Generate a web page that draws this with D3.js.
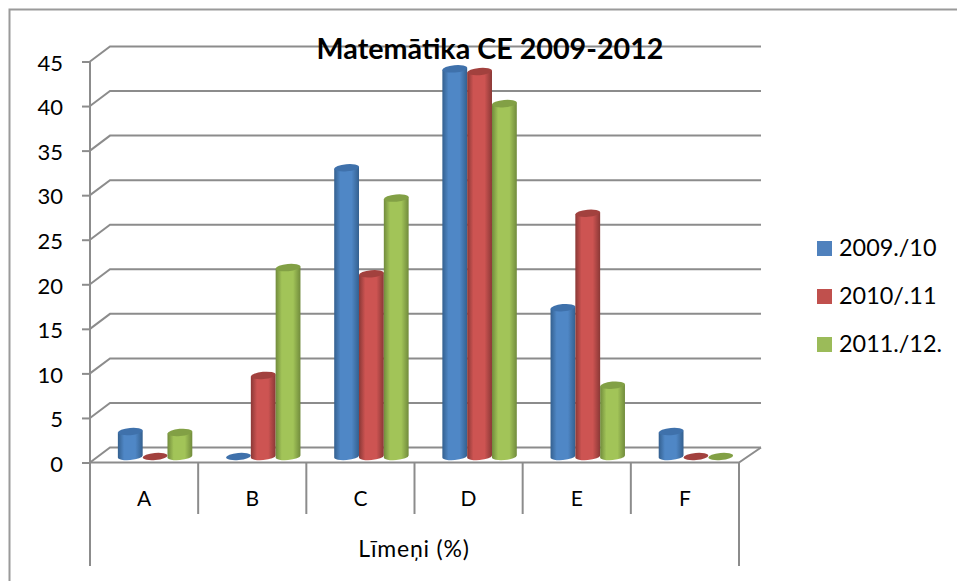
<!DOCTYPE html>
<html>
<head>
<meta charset="utf-8">
<script src="https://d3js.org/d3.v7.min.js"></script>
<style>
  html, body { margin: 0; padding: 0; background: #fff; }
  text { font-family: Lato, "Open Sans", sans-serif; fill: #000; }
</style>
</head>
<body>
<div id="chart"></div>
<script>
var categories = ["A", "B", "C", "D", "E", "F"];
var seriesNames = ["2009./10", "2010/.11", "2011./12."];
var values2009 = [2.8, 0, 32.4, 43.5, 16.7, 2.8];
var values2010 = [0, 9.1, 20.5, 43.2, 27.3, 0];
var values2011 = [2.7, 21.2, 29, 39.6, 8, 0];
var yTicks = [0, 5, 10, 15, 20, 25, 30, 35, 40, 45];
var titleText = "Matemātika CE 2009-2012";
var axisLabel = "Līmeņi (%)";

var allValues = [values2009, values2010, values2011];
var colors = [
    {side: "#34608f", mid: "#4f87c6", top: "#3f71ab"},
    {side: "#8a3836", mid: "#cd5452", top: "#a2413e"},
    {side: "#718b3c", mid: "#a2c458", top: "#82a045"}
];
var legendColors = ["#4f81bd", "#c0504d", "#9bbb59"];

var width = 957, height = 581;
var gridColor = "#8c8c8c";

// depth of the 3d floor
var depthX = 20, depthY = -15;

var svg = d3.select("#chart").append("svg")
    .attr("width", width)
    .attr("height", height)
    .style("display", "block");

// outer frame, only top and left are inside the picture
svg.append("path")
    .attr("d", "M9.5," + height + "V9.5H" + width)
    .attr("fill", "none")
    .attr("stroke", "#9a9a9a")
    .attr("stroke-width", 2);

var x = d3.scaleBand()
    .domain(categories)
    .range([90, 739]);

var y = d3.scaleLinear()
    .domain([0, 45])
    .range([462.5, 61.5]);

// inside of a band the bars take the middle part, moved back into the depth
var barDx = 11, barDy = -6;
var xBar = d3.scaleBand()
    .domain(d3.range(3))
    .range([barDx, x.bandwidth() + barDx])
    .paddingInner(0)
    .paddingOuter(0.68);

var defs = svg.append("defs");
colors.forEach(function (c, i) {
    var g = defs.append("linearGradient")
        .attr("id", "cyl" + i)
        .attr("x1", "0").attr("x2", "1")
        .attr("y1", "0").attr("y2", "0");
    g.append("stop").attr("offset", "0").attr("stop-color", c.side);
    g.append("stop").attr("offset", "0.25").attr("stop-color", c.mid);
    g.append("stop").attr("offset", "0.7").attr("stop-color", c.mid);
    g.append("stop").attr("offset", "1").attr("stop-color", c.side);
});

// back wall gridlines with the slanted part
var grid = svg.append("g")
    .attr("fill", "none")
    .attr("stroke", gridColor)
    .attr("stroke-width", 2);
grid.selectAll("path")
    .data(yTicks)
    .join("path")
    .attr("d", function (d) {
        return "M" + x.range()[0] + "," + y(d) +
            "l" + depthX + "," + depthY +
            "H" + (x.range()[1] + depthX + 2);
    });

// floor
grid.append("path")
    .attr("d", "M" + x.range()[0] + "," + y(0) +
        "H" + x.range()[1] +
        "l" + (depthX + 2) + "," + depthY);

// y axis
var yAxis = svg.append("g")
    .attr("transform", "translate(" + x.range()[0] + ",0)")
    .call(d3.axisLeft(y).tickValues(yTicks).tickSize(8).tickPadding(19));
yAxis.selectAll("line, path").attr("stroke", gridColor).attr("stroke-width", 2);
yAxis.select(".domain").attr("d", "M0," + y(45) + "V" + y(0));
yAxis.selectAll("text")
    .attr("font-family", "Lato")
    .attr("font-size", 22)
    .attr("dy", "0.4em")
    .attr("fill", "#000");

// x axis: category separators and labels
var sep = svg.append("g")
    .attr("stroke", gridColor)
    .attr("stroke-width", 2);
sep.selectAll("line")
    .data(categories.slice(1))
    .join("line")
    .attr("x1", function (d) { return x(d); })
    .attr("x2", function (d) { return x(d); })
    .attr("y1", y(0))
    .attr("y2", 514);
sep.append("line")
    .attr("x1", x.range()[0]).attr("x2", x.range()[0])
    .attr("y1", y(0)).attr("y2", 566);
sep.append("line")
    .attr("x1", x.range()[1]).attr("x2", x.range()[1])
    .attr("y1", y(0)).attr("y2", 566);

svg.append("g").selectAll("text")
    .data(categories)
    .join("text")
    .attr("x", function (d) { return x(d) + x.bandwidth() / 2; })
    .attr("y", 506)
    .attr("text-anchor", "middle")
    .attr("font-size", 21)
    .text(function (d) { return d; });

// bars are cylinders with a slightly tilted top
var ry = 3.6, tilt = -5, lean = 1;

categories.forEach(function (cat, ci) {
    allValues.forEach(function (vals, si) {
        var v = vals[ci];
        var left = x(cat) + xBar(si);
        var w = xBar.bandwidth();
        var yBase = y(0) + barDy;
        var yTop = y(v) + barDy;
        var g = svg.append("g");
        if (v > 0) {
            g.append("path")
                .attr("d", "M" + left + "," + (yTop + lean) +
                    "V" + (yBase + lean) +
                    "A" + (w / 2) + "," + ry + " " + tilt + " 0 0 " + (left + w) + "," + (yBase - lean) +
                    "V" + (yTop - lean) + "Z")
                .attr("fill", "url(#cyl" + si + ")");
        }
        g.append("ellipse")
            .attr("rx", w / 2)
            .attr("ry", ry)
            .attr("transform", "translate(" + (left + w / 2) + "," + yTop + ") rotate(" + tilt + ")")
            .attr("fill", colors[si].top);
    });
});

// title sits over the chart
svg.append("text")
    .attr("x", 490)
    .attr("y", 59)
    .attr("text-anchor", "middle")
    .attr("font-size", 28.7)
    .attr("font-weight", "bold")
    .text(titleText);

svg.append("text")
    .attr("x", 414)
    .attr("y", 557)
    .attr("text-anchor", "middle")
    .attr("font-size", 23)
    .attr("letter-spacing", 0.8)
    .text(axisLabel);

// legend
var legend = svg.append("g").selectAll("g")
    .data(seriesNames)
    .join("g")
    .attr("transform", function (d, i) { return "translate(817," + (241 + i * 48) + ")"; });
legend.append("rect")
    .attr("width", 15).attr("height", 15)
    .attr("fill", function (d, i) { return legendColors[i]; });
legend.append("text")
    .attr("x", 22).attr("y", 15)
    .attr("font-size", 23.4)
    .text(function (d) { return d; });
</script>
</body>
</html>
